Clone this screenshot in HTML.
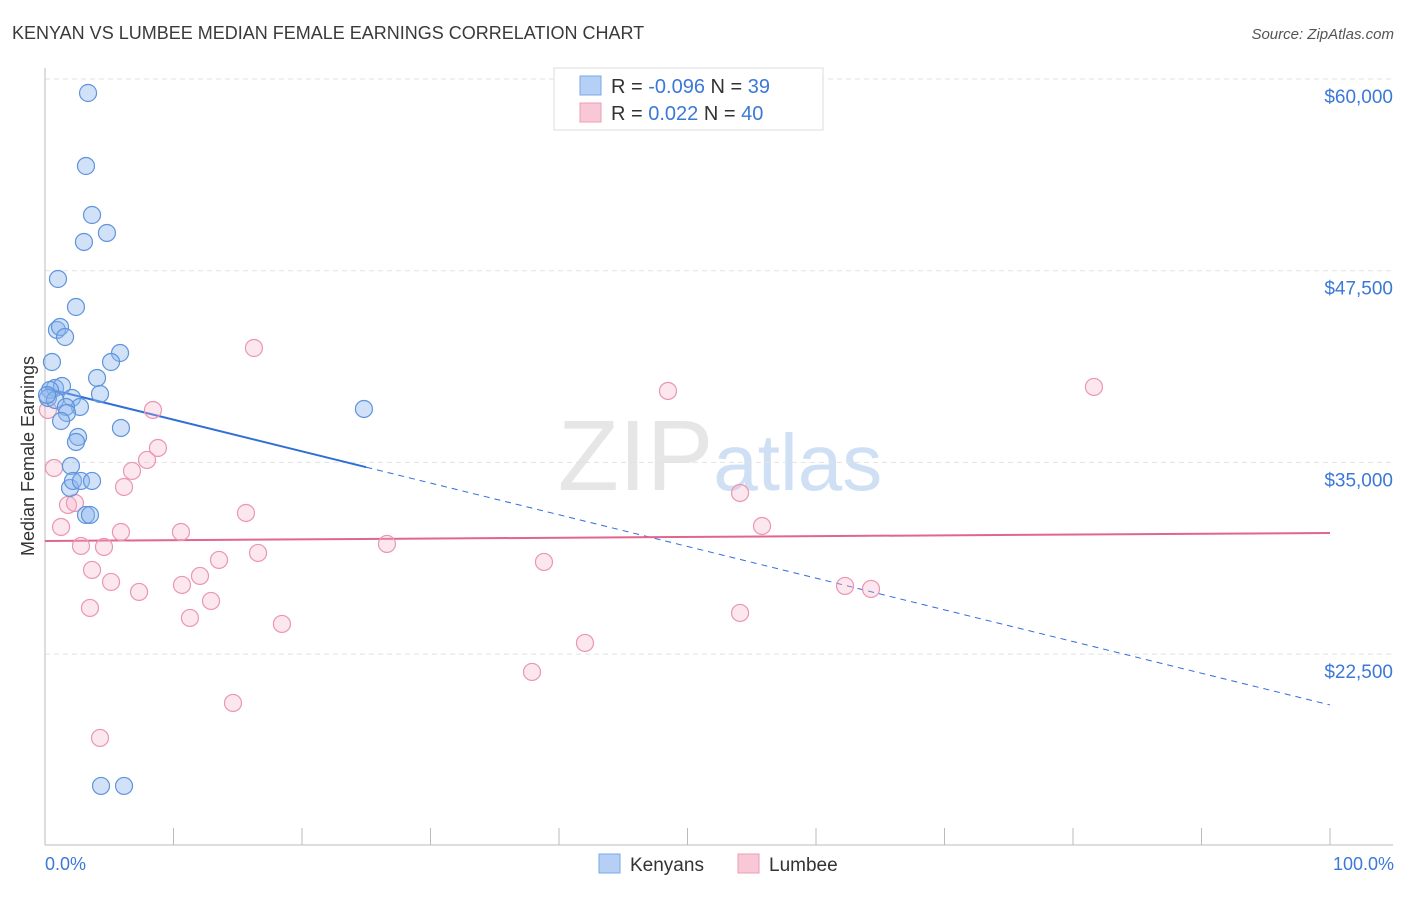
<!DOCTYPE html>
<html><head><meta charset="utf-8"><style>
body{margin:0;background:#fff;font-family:"Liberation Sans",sans-serif}
svg text{font-family:"Liberation Sans",sans-serif}
</style></head><body>
<svg id="chart" width="1406" height="892" xmlns="http://www.w3.org/2000/svg">
<text x="12" y="39" font-size="18" fill="#3a3a3a">KENYAN VS LUMBEE MEDIAN FEMALE EARNINGS CORRELATION CHART</text>
<text x="1394" y="39" font-size="15" fill="#555" text-anchor="end" font-style="italic">Source: ZipAtlas.com</text>
<text x="720" y="490" font-size="100" text-anchor="middle" fill="#e6e6e6" font-family="Liberation Serif">ZIP<tspan fill="#cfe0f5" font-family="Liberation Sans" font-size="80">atlas</tspan></text>
<g id="grid"></g><g id="axes"></g><g id="trend"></g><g id="pts"></g>
<text transform="translate(34,456) rotate(-90)" font-size="18" fill="#333" text-anchor="middle">Median Female Earnings</text>
<text x="45" y="870" font-size="18" fill="#3b78d8">0.0%</text>
<text x="1394" y="870" font-size="18" fill="#3b78d8" text-anchor="end">100.0%</text>
<g>
<rect x="554" y="68" width="269" height="62" fill="#fff" stroke="#ddd"/>
<rect x="580" y="76" width="21" height="19" fill="#b6d0f5" stroke="#7aa8e8"/>
<rect x="580" y="103" width="21" height="19" fill="#f9c8d6" stroke="#ee9bb5"/>
<text x="611" y="93" font-size="20" fill="#333">R = <tspan fill="#3b78d8">-0.096</tspan>   N = <tspan fill="#3b78d8"> 39</tspan></text>
<text x="611" y="120" font-size="20" fill="#333">R = <tspan fill="#3b78d8">  0.022</tspan>   N = <tspan fill="#3b78d8">40</tspan></text>
</g>
<g>
<rect x="599" y="854" width="21" height="19" fill="#b6d0f5" stroke="#7aa8e8"/>
<text x="630" y="871" font-size="19" fill="#333">Kenyans</text>
<rect x="738" y="854" width="21" height="19" fill="#f9c8d6" stroke="#ee9bb5"/>
<text x="769" y="871" font-size="19" fill="#333">Lumbee</text>
</g>
</svg>
<script>
const yTicks=[60000,47500,35000,22500];
const yTickLabels=["$60,000","$47,500","$35,000","$22,500"];
const kenyanX=[3.35,3.19,3.66,3.03,4.82,1.01,2.41,0.93,1.17,1.56,0.54,5.84,5.14,4.05,4.28,0.78,1.32,0.39,0.23,0.78,2.1,2.72,1.63,1.71,1.25,5.91,2.57,2.41,24.82,2.02,1.95,2.18,2.8,3.66,3.19,3.5,4.36,6.15,0.16];
const kenyanY=[59087,54328,51133,49373,49960,46960,45134,43635,43830,43178,41548,42135,41548,40505,39462,39853,39984,39723,39201,39071,39201,38614,38614,38223,37701,37245,36658,36332,38484,34767,33333,33790,33790,33790,31573,31573,13904,13904,39397];
const lumbeeX=[0.23,0.7,1.25,1.79,2.33,2.8,3.66,3.5,4.28,4.59,5.14,5.91,6.15,6.77,7.32,7.94,8.4,8.79,10.58,10.66,11.28,12.06,12.92,13.54,14.63,15.64,16.26,16.58,18.44,26.61,37.9,38.83,42.02,48.48,54.09,54.09,55.8,62.26,64.28,81.63];
const lumbeeY=[38419,34637,30790,32225,32355,29552,27987,25509,17033,29486,27204,30464,33398,34442,26552,35159,38419,35941,30464,27009,24857,27596,25966,28639,19315,31703,42461,29095,24466,29682,21336,28508,23227,39658,33007,25183,30855,26943,26748,39919];
const kenyanTrend=[39853,19185];
const lumbeeTrend=[29878,30400];
const NS="http://www.w3.org/2000/svg";
const xs=p=>45+p*12.85;
const ys=v=>79+(60000-v)/12500*191.7;
function mk(tag,attrs,parent){const e=document.createElementNS(NS,tag);for(const k in attrs)e.setAttribute(k,attrs[k]);document.getElementById(parent).appendChild(e);return e;}
yTicks.forEach((v,i)=>{
 const l=mk('line',{x1:45,x2:1393,y1:ys(v),y2:ys(v),stroke:'#e2e2e2','stroke-dasharray':'5,4'},'grid');
 
 
 const t=mk('text',{x:1393,y:ys(v)+24,'font-size':19,fill:'#3b78d8','text-anchor':'end'},'grid');
 t.textContent=yTickLabels[i];
 
 
});
const ya=mk('line',{x1:45,x2:45,y1:68,y2:845,stroke:'#bbb'},'axes');


const xa=mk('line',{x1:45,x2:1393,y1:845,y2:845,stroke:'#bbb'},'axes');


for(let i=0;i<=10;i++){
 const t=mk('line',{x1:xs(i*10),x2:xs(i*10),y1:828,y2:845,stroke:'#bbb'},'axes');
 
 
}
const kvAt=p=>kenyanTrend[0]+(kenyanTrend[1]-kenyanTrend[0])*p/100;
let tl=mk('line',{x1:xs(0),y1:ys(kvAt(0)),x2:xs(25),y2:ys(kvAt(25)),stroke:'#2f6fd6','stroke-width':2},'trend');


tl=mk('line',{x1:xs(25),y1:ys(kvAt(25)),x2:xs(100),y2:ys(kvAt(100)),stroke:'#2f6fd6','stroke-width':1,'stroke-dasharray':'6,5'},'trend');


tl=mk('line',{x1:xs(0),y1:ys(lumbeeTrend[0]),x2:xs(100),y2:ys(lumbeeTrend[1]),stroke:'#e0668e','stroke-width':2},'trend');


lumbeeX.forEach((x,i)=>{
 const c=mk('circle',{cx:xs(x),cy:ys(lumbeeY[i]),r:8.5,fill:'rgba(246,175,198,0.3)',stroke:'#eb96b1','stroke-width':1.2},'pts');
 
 
});
kenyanX.forEach((x,i)=>{
 const c=mk('circle',{cx:xs(x),cy:ys(kenyanY[i]),r:8.5,fill:'rgba(140,182,238,0.4)',stroke:'#5f94dc','stroke-width':1.2},'pts');
 
 
});
</script>
</body></html>
